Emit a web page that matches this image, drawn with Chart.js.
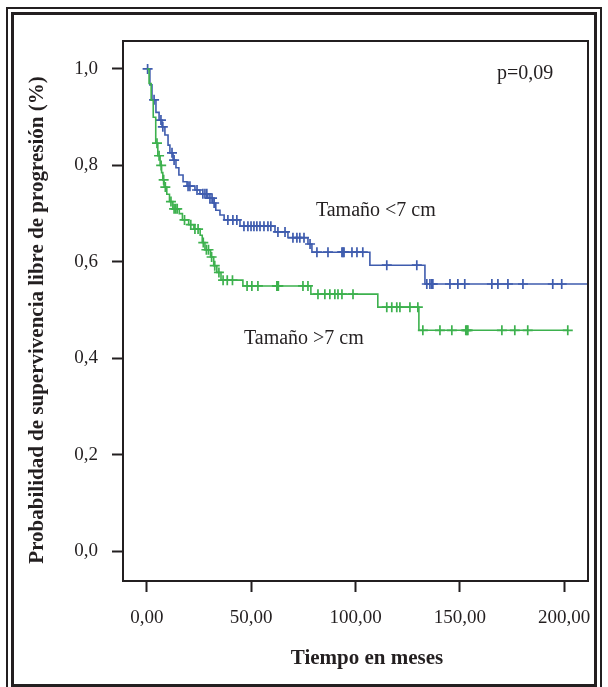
<!DOCTYPE html>
<html><head><meta charset="utf-8">
<script src="https://cdn.jsdelivr.net/npm/chart.js@4/dist/chart.umd.min.js"></script>
<style>html,body{margin:0;padding:0;background:#fff;} #wrap{position:relative;width:608px;height:687px;}</style>
</head><body><div id="wrap"><canvas id="c" width="608" height="687"></canvas></div>
<script>
const xTicks = [0, 50, 100, 150, 200];
const yTicks = [0, 0.2, 0.4, 0.6, 0.8, 1.0];
const seriesNames = ['Tamaño <7 cm', 'Tamaño >7 cm'];

// Tamaño <7 cm (blue)
const smallEventTimes = [0, 1.4, 2.4, 4.3, 5.8, 7.2, 8.6, 10.1, 11, 12.5, 13.9, 15.3, 17.3, 19.2, 23, 25.4, 29.2, 31.6, 33, 35, 37, 44.6, 61.4, 67.6, 77.2, 79.1, 106.9, 133.3];
const smallSurvival   = [1, 0.967, 0.936, 0.91, 0.894, 0.88, 0.863, 0.842, 0.826, 0.811, 0.795, 0.78, 0.766, 0.757, 0.749, 0.741, 0.732, 0.722, 0.707, 0.697, 0.687, 0.674, 0.662, 0.650, 0.637, 0.62, 0.593, 0.554];
const smallCensored   = [0.3, 3.4, 6.7, 7.6, 12, 13, 19.7, 20.6, 24, 26.8, 27.8, 28.7, 30.2, 31.2, 32.2, 38.8, 41.2, 43.1, 46.5, 48.4, 49.9, 51.3, 52.7, 54.2, 56.1, 58, 59.4, 62.8, 66.2, 70, 71.9, 73.3, 75.3, 78.2, 81.5, 86.8, 93.5, 94, 94.5, 98.3, 100.7, 103.5, 115, 129.4, 134.2, 135.7, 136.6, 137.1, 145.3, 149.1, 152.4, 165.4, 168.3, 173.1, 180.3, 194.6, 198.9];
const smallEnd = 211.4;

// Tamaño >7 cm (green)
const largeEventTimes = [0, 1, 2, 3, 4.2, 5.2, 6.3, 7, 7.6, 8.2, 9.5, 10.8, 12.4, 15.5, 17, 20, 22.5, 25.5, 26.5, 27.8, 30.5, 32, 33.5, 35.5, 46, 78.6, 110.7, 130.4];
const largeSurvival   = [1, 0.97, 0.935, 0.90, 0.846, 0.82, 0.80, 0.785, 0.77, 0.755, 0.74, 0.725, 0.71, 0.70, 0.687, 0.677, 0.668, 0.655, 0.64, 0.625, 0.61, 0.592, 0.578, 0.562, 0.55, 0.533, 0.506, 0.458];
const largeCensored   = [4.8, 5.8, 6.8, 8, 8.8, 11.5, 13, 13.8, 14.5, 18, 21, 23, 24.5, 27, 28.5, 29.5, 31, 32.5, 34.5, 36.5, 38.5, 41, 48, 50.3, 53.2, 62.3, 62.6, 63, 74.8, 77.2, 82, 85.3, 87.7, 90.1, 91.6, 93.5, 98.8, 115, 117.4, 119.8, 121.3, 126.1, 129.9, 132.3, 140.5, 146.2, 152.9, 153.4, 153.9, 170.2, 176.4, 182.6, 201.8];
const largeEnd = 201.8;

const annotations = [
  {text: 'p=0,09', x: 167.8, y: 0.99},
  {text: 'Tamaño <7 cm', x: 81, y: 0.705},
  {text: 'Tamaño >7 cm', x: 46.5, y: 0.44}
];
const xTitle = 'Tiempo en meses';
const yTitle = 'Probabilidad de supervivencia libre de progresión (%)';

const BLUE = '#3f5cae';
const GREEN = '#3db14e';
const INK = '#231f20';
const SERIF = '"Liberation Serif", "Times New Roman", serif';

function survAt(times, surv, t) {
  let s = surv[0];
  for (let i = 0; i < times.length; i++) { if (times[i] <= t) s = surv[i]; }
  return s;
}
function stepLine(times, surv, end) {
  const pts = times.map((t, i) => ({x: t, y: surv[i]}));
  pts.push({x: end, y: surv[surv.length - 1]});
  return pts;
}
function censorPts(times, surv, cens) {
  return cens.map(t => ({x: t, y: survAt(times, surv, t)}));
}

const framePlugin = {
  id: 'frame',
  beforeDraw(chart) {
    const ctx = chart.ctx;
    ctx.save();
    ctx.fillStyle = '#fff';
    ctx.fillRect(0, 0, chart.width, chart.height);
    ctx.strokeStyle = INK;
    ctx.lineWidth = 2;
    ctx.strokeRect(7, 8, 594, 690);
    ctx.lineWidth = 3;
    ctx.strokeRect(12.5, 13.5, 583, 672);
    ctx.restore();
  },
  afterDatasetsDraw(chart) {
    const ctx = chart.ctx, a = chart.chartArea;
    const xs = chart.scales.x, ys = chart.scales.y;
    ctx.save();
    ctx.strokeStyle = INK;
    ctx.lineWidth = 2;
    ctx.strokeRect(a.left, a.top, a.right - a.left, a.bottom - a.top);
    ctx.fillStyle = INK;
    ctx.font = '20px ' + SERIF;
    ctx.textAlign = 'left';
    ctx.textBaseline = 'middle';
    annotations.forEach(an => ctx.fillText(an.text, xs.getPixelForValue(an.x), ys.getPixelForValue(an.y)));
    ctx.font = 'bold 21px ' + SERIF;
    ctx.textAlign = 'center';
    ctx.fillText(xTitle, 367, 659);
    ctx.translate(38, 320);
    ctx.rotate(-Math.PI / 2);
    ctx.fillText(yTitle, 0, 0);
    ctx.restore();
  }
};

new Chart(document.getElementById('c'), {
  type: 'scatter',
  data: {
    datasets: [
      {label: seriesNames[1], type: 'line', data: stepLine(largeEventTimes, largeSurvival, largeEnd), stepped: true, borderColor: GREEN, borderWidth: 1.6, pointRadius: 0, fill: false},
      {label: seriesNames[1] + ' censurado', data: censorPts(largeEventTimes, largeSurvival, largeCensored), pointStyle: 'cross', pointRadius: 5, borderColor: GREEN, borderWidth: 1.7, backgroundColor: GREEN},
      {label: seriesNames[0], type: 'line', data: stepLine(smallEventTimes, smallSurvival, smallEnd), stepped: true, borderColor: BLUE, borderWidth: 1.6, pointRadius: 0, fill: false},
      {label: seriesNames[0] + ' censurado', data: censorPts(smallEventTimes, smallSurvival, smallCensored), pointStyle: 'cross', pointRadius: 5, borderColor: BLUE, borderWidth: 1.7, backgroundColor: BLUE}
    ]
  },
  options: {
    responsive: false,
    animation: false,
    events: [],
    layout: {padding: {top: 41, right: 20, left: 0, bottom: 0}},
    plugins: {legend: {display: false}, tooltip: {enabled: false}},
    scales: {
      x: {
        type: 'linear', min: -11.5, max: 211.5,
        afterBuildTicks: s => { s.ticks = xTicks.map(v => ({value: v})); },
        afterFit: s => { s.height = 106; },
        ticks: {font: {family: SERIF, size: 19}, color: INK, padding: 15, maxRotation: 0,
          callback: v => v.toFixed(2).replace('.', ',')},
        grid: {drawOnChartArea: false, drawTicks: true, tickLength: 11, tickWidth: 2, tickColor: INK},
        border: {display: false}
      },
      y: {
        type: 'linear', min: -0.062, max: 1.058,
        afterBuildTicks: s => { s.ticks = yTicks.map(v => ({value: v})); },
        afterFit: s => { s.width = 123; },
        ticks: {font: {family: SERIF, size: 19}, color: INK, padding: 14,
          callback: v => v.toFixed(1).replace('.', ',')},
        grid: {drawOnChartArea: false, drawTicks: true, tickLength: 11, tickWidth: 2, tickColor: INK},
        border: {display: false}
      }
    }
  },
  plugins: [framePlugin]
});
</script>
</body></html>
